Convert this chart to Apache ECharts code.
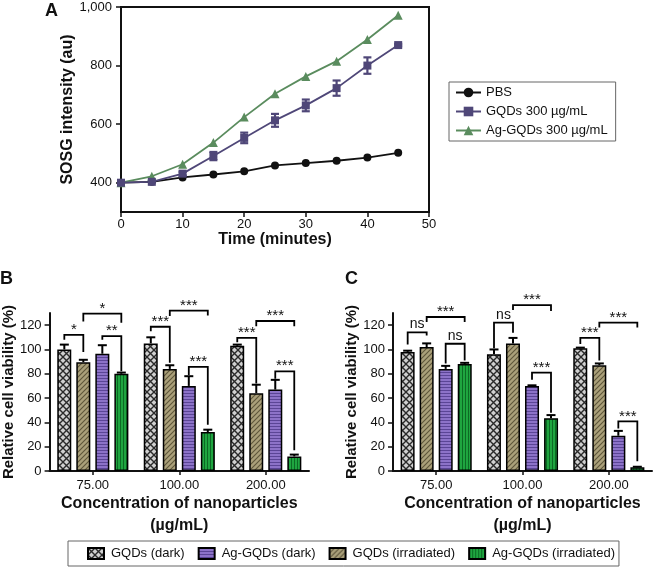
<!DOCTYPE html>
<html><head><meta charset="utf-8">
<script src="https://cdn.jsdelivr.net/npm/echarts@6/dist/echarts.min.js"></script>
<style>html,body{margin:0;padding:0;background:#fff}#c{width:654px;height:567px}</style>
</head><body><div id="c"></div>
<script>
// ---------- Panel A data ----------
const timeMin = [0, 5, 10, 15, 20, 25, 30, 35, 40, 45];
const pbs = [400, 403, 418, 428, 439, 459, 467, 475, 486, 502];
const gqds300 = [400, 403, 431, 491, 553, 613, 664, 723, 800, 870];
const gqds300Err = [0, 0, 6, 14, 18, 22, 20, 26, 28, 4];
const agGqds300 = [400, 422, 463, 537, 624, 704, 763, 815, 889, 972];
const aYTicks = [400, 600, 800, 1000];
const lineNames = ['PBS', 'GQDs 300 µg/mL', 'Ag-GQDs 300 µg/mL'];

// ---------- Panels B / C data ----------
const concCategories = ['75.00', '100.00', '200.00'];
const barNames = ['GQDs (dark)', 'GQDs (irradiated)', 'Ag-GQDs (dark)', 'Ag-GQDs (irradiated)'];
const legendOrder = ['GQDs (dark)', 'Ag-GQDs (dark)', 'GQDs (irradiated)', 'Ag-GQDs (irradiated)'];
const viabTicks = [0, 20, 40, 60, 80, 100, 120];

const bGqdsDark = [100, 105, 103];
const bGqdsDarkErr = [4, 5, 1];
const bGqdsIrr = [89.5, 84, 64];
const bGqdsIrrErr = [2, 3, 7];
const bAgDark = [96.5, 70, 67];
const bAgDarkErr = [7, 8, 8];
const bAgIrr = [80, 32, 12];
const bAgIrrErr = [1, 2, 1.5];

const cGqdsDark = [98, 96, 101];
const cGqdsDarkErr = [1, 4, 0.5];
const cGqdsIrr = [102, 105, 87];
const cGqdsIrrErr = [3, 4.5, 1.5];
const cAgDark = [84, 70, 29];
const cAgDarkErr = [2.5, 0.5, 4];
const cAgIrr = [88, 43.5, 3];
const cAgIrrErr = [1, 2.5, 0.5];

// brackets: [category, barA, barB, topValue, legAEnd, legBEnd, label]
const bracketsB = [
  [0, 0, 1, 112, 108, 98, '*'],
  [0, 1, 3, 129.5, 123, 122, '*'],
  [0, 2, 3, 111, 108, 82, '**'],
  [1, 0, 1, 118.7, 115, 89, '***'],
  [1, 1, 3, 132, 127.5, 128, '***'],
  [1, 2, 3, 85.7, 79, 38, '***'],
  [2, 0, 1, 109.6, 106, 72, '***'],
  [2, 1, 3, 123.4, 119, 119, '***'],
  [2, 2, 3, 82, 76, 17, '***']
];
const bracketsC = [
  [0, 0, 1, 114, 104, 111.5, 'ns'],
  [0, 1, 3, 126.7, 122.6, 122.6, '***'],
  [0, 2, 3, 104.7, 88.5, 91, 'ns'],
  [1, 0, 1, 122, 101, 113.8, 'ns'],
  [1, 1, 3, 136.4, 132.5, 131.7, '***'],
  [1, 2, 3, 81, 75, 48, '***'],
  [2, 0, 1, 109.6, 104.5, 91, '***'],
  [2, 1, 3, 122, 118, 118, '***'],
  [2, 2, 3, 40.8, 35, 8, '***']
];

// ---------- styles ----------
const FF = 'Liberation Sans, Arial, sans-serif';
const PURPLE = '#4f4778';
const GREEN = '#5a8c5e';
const BAR_W = 14, BAR_STEP = 19;

function makePattern(kind) {
  const c = document.createElement('canvas');
  let ctx;
  if (kind === 'cross') {
    c.width = 7; c.height = 7; ctx = c.getContext('2d');
    ctx.fillStyle = '#d0d0d0'; ctx.fillRect(0, 0, 7, 7);
    ctx.strokeStyle = '#2a2a2a'; ctx.lineWidth = 1.4;
    ctx.beginPath();
    ctx.moveTo(-1, -1); ctx.lineTo(8, 8);
    ctx.moveTo(8, -1); ctx.lineTo(-1, 8);
    ctx.stroke();
  } else if (kind === 'diag') {
    c.width = 5; c.height = 5; ctx = c.getContext('2d');
    ctx.fillStyle = '#aaa07a'; ctx.fillRect(0, 0, 5, 5);
    ctx.strokeStyle = '#5e553a'; ctx.lineWidth = 1.1;
    ctx.beginPath();
    ctx.moveTo(-1, 6); ctx.lineTo(6, -1);
    ctx.moveTo(-1, 1); ctx.lineTo(1, -1);
    ctx.moveTo(4, 6); ctx.lineTo(6, 4);
    ctx.stroke();
  } else if (kind === 'h') {
    c.width = 4; c.height = 3; ctx = c.getContext('2d');
    ctx.fillStyle = '#8c72c8'; ctx.fillRect(0, 0, 4, 3);
    ctx.fillStyle = '#5b4596'; ctx.fillRect(0, 0, 4, 1);
  } else {
    c.width = 3; c.height = 4; ctx = c.getContext('2d');
    ctx.fillStyle = '#1fa540'; ctx.fillRect(0, 0, 3, 4);
    ctx.fillStyle = '#0c6a24'; ctx.fillRect(0, 0, 1, 4);
  }
  return { image: c, repeat: 'repeat' };
}
const barFills = [makePattern('cross'), makePattern('diag'), makePattern('h'), makePattern('v')];

const chart = echarts.init(document.getElementById('c'), null, { renderer: 'canvas' });

const axisLineStyle = { show: true, lineStyle: { color: '#111', width: 2 } };
const labelStyle = { color: '#111', fontSize: 13, fontFamily: FF };
const nameStyle = { color: '#111', fontSize: 15, fontWeight: 'bold', fontFamily: FF };

function barOffset(i) { return (i - 1.5) * BAR_STEP; }

function renderBarErr(params, api) {
  const cat = api.value(0), bi = api.value(1), v = api.value(2), e = api.value(3);
  const p = api.coord([cat, v]);
  const t = api.coord([cat, v + e]);
  const x = p[0] + barOffset(bi);
  const st = { stroke: '#000', lineWidth: 2 };
  return { type: 'group', children: [
    { type: 'line', shape: { x1: x, y1: p[1], x2: x, y2: t[1] }, style: st },
    { type: 'line', shape: { x1: x - 4.5, y1: t[1], x2: x + 4.5, y2: t[1] }, style: st }
  ]};
}

function makeBracketRenderer(list) {
  return function (params, api) {
    const b = list[params.dataIndex];
    const cat = b[0];
    const xa = api.coord([cat, 0])[0] + barOffset(b[1]);
    const xb = api.coord([cat, 0])[0] + barOffset(b[2]);
    const yt = api.coord([cat, b[3]])[1];
    const ya = api.coord([cat, b[4]])[1];
    const yb = api.coord([cat, b[5]])[1];
    const isNs = b[6] === 'ns';
    return { type: 'group', children: [
      { type: 'polyline', shape: { points: [[xa, ya], [xa, yt], [xb, yt], [xb, yb]] },
        style: { stroke: '#000', lineWidth: 1.8, fill: null } },
      { type: 'text', x: (xa + xb) / 2, y: yt - (isNs ? 8 : 5),
        style: { text: b[6], fill: '#111', fontSize: isNs ? 14 : 15, fontFamily: FF,
                 align: 'center', verticalAlign: 'middle' } }
    ]};
  };
}

function barSeries(gi, vals) {
  return vals.map((arr, i) => ({
    type: 'bar', name: barNames[i], xAxisIndex: gi, yAxisIndex: gi,
    data: arr, barWidth: BAR_W, barGap: '36%', z: 2,
    itemStyle: { color: barFills[i], borderColor: '#000', borderWidth: 1.5 }
  }));
}
function errData(vals, errs) {
  const out = [];
  for (let c = 0; c < concCategories.length; c++)
    for (let i = 0; i < vals.length; i++) out.push([c, i, vals[i][c], errs[i][c]]);
  return out;
}

const bVals = [bGqdsDark, bGqdsIrr, bAgDark, bAgIrr];
const bErrs = [bGqdsDarkErr, bGqdsIrrErr, bAgDarkErr, bAgIrrErr];
const cVals = [cGqdsDark, cGqdsIrr, cAgDark, cAgIrr];
const cErrs = [cGqdsDarkErr, cGqdsIrrErr, cAgDarkErr, cAgIrrErr];

function catAxis(gi) {
  return {
    type: 'category', gridIndex: gi, data: concCategories,
    name: 'Concentration of nanoparticles\n(µg/mL)', nameLocation: 'middle', nameGap: 22,
    nameTextStyle: Object.assign({}, nameStyle, { fontSize: 16, lineHeight: 22 }),
    axisLine: axisLineStyle, axisTick: { show: true, alignWithLabel: true, length: 4, lineStyle: { color: '#111', width: 1.5 } },
    axisLabel: Object.assign({ margin: 8 }, labelStyle)
  };
}
function viabAxis(gi) {
  return {
    type: 'value', gridIndex: gi, min: 0, max: 130, interval: 20,
    name: 'Relative cell viability (%)', nameLocation: 'middle', nameGap: 30, nameRotate: 90,
    nameTextStyle: nameStyle,
    axisLine: axisLineStyle,
    axisTick: { show: true, length: 5, customValues: viabTicks, lineStyle: { color: '#111', width: 1.5 } },
    axisLabel: Object.assign({ margin: 8, customValues: viabTicks, formatter: v => (v > 120 ? '' : String(v)) }, labelStyle),
    splitLine: { show: false }
  };
}

const option = {
  backgroundColor: '#fff',
  animation: false,
  textStyle: { fontFamily: FF },
  graphic: [
    { type: 'text', left: 45, top: 2, style: { text: 'A', fontSize: 18, fontWeight: 'bold', fontFamily: FF, fill: '#111' } },
    { type: 'text', left: 0, top: 270, style: { text: 'B', fontSize: 18, fontWeight: 'bold', fontFamily: FF, fill: '#111' } },
    { type: 'text', left: 345, top: 270, style: { text: 'C', fontSize: 18, fontWeight: 'bold', fontFamily: FF, fill: '#111' } }
  ],
  legend: [
    {
      data: lineNames, orient: 'vertical', left: 449, top: 82,
      padding: [4, 8, 4, 6], itemWidth: 25, itemHeight: 12, itemGap: 6,
      borderColor: '#666', borderWidth: 1, backgroundColor: '#fff',
      textStyle: { color: '#111', fontSize: 13, fontFamily: FF }
    },
    {
      data: legendOrder, orient: 'horizontal', left: 68, top: 541,
      padding: [6, 4, 6, 19], itemWidth: 16, itemHeight: 11, itemGap: 13, icon: 'rect',
      borderColor: '#666', borderWidth: 1,
      textStyle: { color: '#111', fontSize: 13, fontFamily: FF, padding: [0, 0, 0, 2] }
    }
  ],
  grid: [
    { left: 121, top: 7, width: 308, height: 205, show: true, borderColor: '#111', borderWidth: 2, backgroundColor: 'transparent' },
    { left: 49, top: 313, width: 260, height: 158 },
    { left: 393, top: 313, width: 259, height: 158 }
  ],
  xAxis: [
    {
      type: 'value', gridIndex: 0, min: 0, max: 50, interval: 10,
      name: 'Time (minutes)', nameLocation: 'middle', nameGap: 18,
      nameTextStyle: Object.assign({}, nameStyle, { fontSize: 16 }),
      axisLine: axisLineStyle, axisTick: { show: true, length: 5, lineStyle: { color: '#111', width: 1.5 } },
      axisLabel: Object.assign({ margin: 6 }, labelStyle), splitLine: { show: false }
    },
    catAxis(1), catAxis(2)
  ],
  yAxis: [
    {
      type: 'value', gridIndex: 0, min: 300, max: 1000, interval: 100,
      name: 'SOSG intensity (au)', nameLocation: 'middle', nameGap: 44,
      nameTextStyle: Object.assign({}, nameStyle, { fontSize: 16 }),
      axisLine: axisLineStyle,
      axisTick: { show: true, length: 5, customValues: aYTicks, lineStyle: { color: '#111', width: 1.5 } },
      axisLabel: Object.assign({ margin: 9, customValues: aYTicks,
        formatter: v => (aYTicks.indexOf(v) < 0 ? '' : (v >= 1000 ? '1,000' : String(v))) }, labelStyle),
      splitLine: { show: false }
    },
    viabAxis(1), viabAxis(2)
  ],
  series: [
    { type: 'line', name: lineNames[0], xAxisIndex: 0, yAxisIndex: 0,
      data: timeMin.map((t, i) => [t, pbs[i]]), symbol: 'circle', symbolSize: 8,
      itemStyle: { color: '#111' }, lineStyle: { color: '#111', width: 1.8 }, z: 3 },
    { type: 'line', name: lineNames[1], xAxisIndex: 0, yAxisIndex: 0,
      data: timeMin.map((t, i) => [t, gqds300[i]]), symbol: 'rect', symbolSize: 8,
      itemStyle: { color: PURPLE }, lineStyle: { color: PURPLE, width: 1.8 }, z: 4 },
    { type: 'line', name: lineNames[2], xAxisIndex: 0, yAxisIndex: 0,
      data: timeMin.map((t, i) => [t, agGqds300[i]]), symbol: 'triangle', symbolSize: 9,
      itemStyle: { color: GREEN }, lineStyle: { color: GREEN, width: 1.8 }, z: 3 },
    { type: 'custom', xAxisIndex: 0, yAxisIndex: 0, z: 5, clip: false,
      data: timeMin.map((t, i) => [t, gqds300[i], gqds300Err[i]]),
      encode: { x: 0, y: 1 },
      renderItem: function (params, api) {
        const x = api.value(0), v = api.value(1), e = api.value(2);
        if (!e) return null;
        const t = api.coord([x, v + e]), b = api.coord([x, v - e]);
        const st = { stroke: PURPLE, lineWidth: 2.2 };
        return { type: 'group', children: [
          { type: 'line', shape: { x1: t[0], y1: t[1], x2: b[0], y2: b[1] }, style: st },
          { type: 'line', shape: { x1: t[0] - 4, y1: t[1], x2: t[0] + 4, y2: t[1] }, style: st },
          { type: 'line', shape: { x1: b[0] - 4, y1: b[1], x2: b[0] + 4, y2: b[1] }, style: st }
        ]};
      } },
    ...barSeries(1, bVals),
    ...barSeries(2, cVals),
    { type: 'custom', xAxisIndex: 1, yAxisIndex: 1, z: 5, clip: false,
      data: errData(bVals, bErrs), encode: { x: 0, y: 2 }, renderItem: renderBarErr },
    { type: 'custom', xAxisIndex: 2, yAxisIndex: 2, z: 5, clip: false,
      data: errData(cVals, cErrs), encode: { x: 0, y: 2 }, renderItem: renderBarErr },
    { type: 'custom', xAxisIndex: 1, yAxisIndex: 1, z: 6, clip: false,
      data: bracketsB.map(b => [b[0], b[3]]), encode: { x: 0, y: 1 }, renderItem: makeBracketRenderer(bracketsB) },
    { type: 'custom', xAxisIndex: 2, yAxisIndex: 2, z: 6, clip: false,
      data: bracketsC.map(b => [b[0], b[3]]), encode: { x: 0, y: 1 }, renderItem: makeBracketRenderer(bracketsC) }
  ]
};
chart.setOption(option);
</script>
</body></html>
